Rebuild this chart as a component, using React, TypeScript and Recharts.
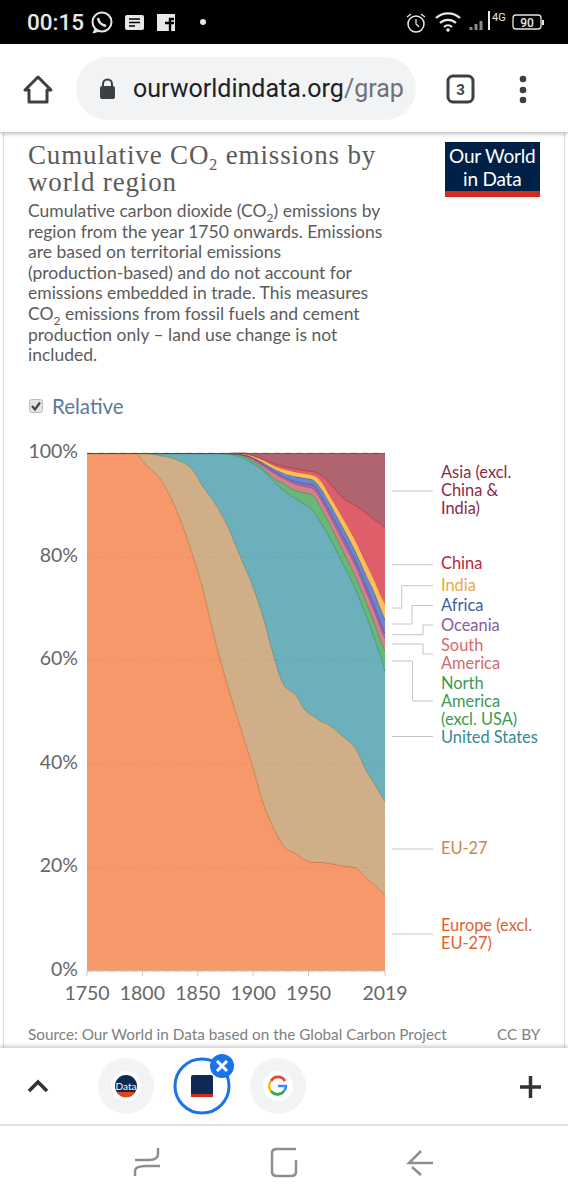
import { AreaChart, Area, XAxis, YAxis, CartesianGrid } from 'recharts'

const years = [1750, 1795, 1801, 1816, 1831, 1846, 1855, 1864, 1876, 1888, 1900, 1909, 1918, 1927, 1939, 1947, 1954, 1960, 1969, 1981, 1992, 2002, 2010, 2015, 2019]

const europe = [100, 100, 98.3, 95.1, 89, 80, 73.5, 65.4, 55.9, 47.5, 39.2, 32.5, 27.9, 24.3, 22.6, 21.5, 21, 21, 20.8, 20.3, 20, 18, 16.5, 15.5, 14.7]
const eu27 = [0, 0, 1.7, 4.5, 9.8, 16.7, 20, 25.5, 30.5, 32.8, 35, 35.9, 33.4, 31.2, 30.6, 28.9, 28.3, 27.4, 26.7, 25, 23.2, 20.8, 19.5, 18.7, 18]
const unitedStates = [0, 0, 0, 0.4, 1.2, 3.3, 6.5, 9.1, 13.5, 19, 23.8, 28.3, 33.5, 37.5, 38, 39.7, 39.7, 38.6, 36.3, 33.4, 30.8, 29.9, 28, 26.6, 25.3]
const northAmerica = [0, 0, 0, 0, 0, 0, 0, 0, 0.1, 0.4, 0.5, 0.4, 0.5, 1.2, 1.6, 2.3, 2.9, 3, 2.6, 2.5, 2.4, 2.6, 2.9, 3.1, 3.9]
const southAmerica = [0, 0, 0, 0, 0, 0, 0, 0, 0, 0.1, 0.4, 0.5, 1, 1, 1.2, 1.2, 1.3, 1.5, 1.6, 1.8, 2, 2, 2.3, 2.4, 2.4]
const oceania = [0, 0, 0, 0, 0, 0, 0, 0, 0, 0, 0.1, 0.3, 0.4, 0.4, 0.5, 0.6, 0.7, 0.8, 0.9, 1, 1, 1.1, 1, 1, 1]
const africa = [0, 0, 0, 0, 0, 0, 0, 0, 0, 0.1, 0.2, 0.3, 0.4, 0.6, 1, 1, 1, 1.3, 1.5, 1.7, 1.8, 2.1, 2.6, 2.7, 2.7]
const india = [0, 0, 0, 0, 0, 0, 0, 0, 0, 0.1, 0.3, 0.5, 0.6, 0.8, 0.9, 0.9, 0.9, 1.4, 1.5, 1.8, 2.1, 2.3, 2.4, 2.6, 2.9]
const china = [0, 0, 0, 0, 0, 0, 0, 0, 0, 0, 0.1, 0.2, 0.4, 0.5, 0.6, 0.6, 0.7, 1, 2.4, 3.9, 6.7, 9.7, 11.9, 13.8, 14.7]
const asia = [0, 0, 0, 0, 0, 0, 0, 0, 0, 0.1, 0.4, 1.1, 1.9, 2.5, 3, 3.3, 3.5, 4, 5.7, 8.6, 10, 11.5, 12.9, 13.6, 14.4]

const xTicks = [1750, 1800, 1850, 1900, 1950, 2019]
const yTicks = [0, 20, 40, 60, 80, 100]

const series = [
  { key: 'europe', values: europe, fill: '#f47e45', stroke: '#c4622f' },
  { key: 'eu27', values: eu27, fill: '#c49a69', stroke: '#99764d' },
  { key: 'unitedStates', values: unitedStates, fill: '#469ca9', stroke: '#2f7f8b' },
  { key: 'northAmerica', values: northAmerica, fill: '#45a656', stroke: '#2f8a40' },
  { key: 'southAmerica', values: southAmerica, fill: '#c7636f', stroke: '#ad4f5b' },
  { key: 'oceania', values: oceania, fill: '#7c4aa1', stroke: '#663a88' },
  { key: 'africa', values: africa, fill: '#4369c0', stroke: '#3454a0' },
  { key: 'india', values: india, fill: '#fbae31', stroke: '#e09520' },
  { key: 'china', values: china, fill: '#d63743', stroke: '#b52a35' },
  { key: 'asia', values: asia, fill: '#9b3d4c', stroke: '#80303e' },
]

const rows = years.map((year, i) => {
  const row: Record<string, number> = { year }
  series.forEach((s) => {
    row[s.key] = s.values[i]
  })
  return row
})

const labels = [
  { top: 463, color: '#8c2b45', lines: ['Asia (excl.', 'China &', 'India)'] },
  { top: 554, color: '#b5283a', lines: ['China'] },
  { top: 576, color: '#e8a83c', lines: ['India'] },
  { top: 596, color: '#3d5c9e', lines: ['Africa'] },
  { top: 616, color: '#8a5a9e', lines: ['Oceania'] },
  { top: 636, color: '#d46a6a', lines: ['South', 'America'] },
  { top: 674, color: '#3a9a50', lines: ['North', 'America', '(excl. USA)'] },
  { top: 728, color: '#2f8a96', lines: ['United States'] },
  { top: 839, color: '#c08a50', lines: ['EU-27'] },
  { top: 916, color: '#e0622a', lines: ['Europe (excl.', 'EU-27)'] },
]

const leaders = [
  'M392 491H433',
  'M392 564.7H433',
  'M392 608H401.7V585.7H433',
  'M392 624H412V605.5H433',
  'M392 634.7H423V625H433',
  'M392 644H423V654H433',
  'M392 661H412.5V701H433',
  'M392 736.5H433',
  'M392 849H433',
  'M392 934H433',
]

const abs = (left: number, top: number, extra = {}) => ({ position: 'absolute' as const, left, top, ...extra })

function PhoneTop() {
  return (
    <>
      <div style={abs(0, 0, { width: 568, height: 44, background: '#000' })} />
      <div style={abs(27, 9, { color: '#e8e8e8', font: '500 22.5px Roboto' })}>00:15</div>
      <svg style={abs(0, 0)} width={568} height={44}>
        <circle cx={102} cy={22} r={9.5} fill="none" stroke="#e8e8e8" strokeWidth={2} />
        <path d="M95 29l-2 4 5-1.500" fill="#e8e8e8" stroke="#e8e8e8" />
        <path d="M98 18c1 5 3 7 8 8" fill="none" stroke="#e8e8e8" strokeWidth={2.5} />
        <rect x={125} y={15} width={19} height={15} rx={2} fill="#e8e8e8" />
        <path d="M129 19h11M129 22.500h11M129 26h6" stroke="#000" strokeWidth={1.5} />
        <rect x={157} y={14} width={18} height={17} fill="#e8e8e8" />
        <path d="M170 31v-12h4M165 23h9" stroke="#000" strokeWidth={2.4} fill="none" />
        <circle cx={203} cy={22} r={3} fill="#e8e8e8" />
        <circle cx={416} cy={24} r={8} fill="none" stroke="#e8e8e8" strokeWidth={1.5} />
        <path d="M416 19v5l3 3M407 17l4-3M425 17l-4-3" fill="none" stroke="#e8e8e8" strokeWidth={1.3} />
        <path d="M436 18a18 18 0 0 1 24 0M440 23a12 12 0 0 1 16 0M444 27a6 6 0 0 1 8 0" fill="none" stroke="#e8e8e8" strokeWidth={2.2} />
        <circle cx={448} cy={30} r={1.8} fill="#e8e8e8" />
        <path d="M471 30v-3M476 30v-6M481 30v-9" stroke="#8a8a8a" strokeWidth={3} />
        <path d="M489 30v-19" stroke="#e8e8e8" strokeWidth={2} />
        <text x={492} y={21} fontFamily="Roboto" fontSize={11} fill="#e8e8e8">4G</text>
        <rect x={513} y={15} width={28} height={14} rx={3} fill="none" stroke="#e8e8e8" strokeWidth={1.3} />
        <rect x={542} y={20} width={2} height={5} fill="#e8e8e8" />
        <text x={527} y={27} textAnchor="middle" fontFamily="Roboto" fontWeight={500} fontSize={12} fill="#e8e8e8">90</text>
      </svg>
      <div style={abs(0, 44, { width: 568, height: 88, background: '#fff', boxShadow: '0 2px 4px rgba(0,0,0,0.25)' })} />
      <div style={abs(76, 57, { width: 340, height: 63, borderRadius: 32, background: '#f1f3f4' })} />
      <svg style={abs(0, 44)} width={568} height={88}>
        <path d="M25 46L38 33L51 46H47V58H29V46Z" fill="none" stroke="#3c4043" strokeWidth={3} strokeLinejoin="round" />
        <rect x={100} y={42} width={15} height={13} rx={2} fill="#3c4043" />
        <path d="M103 43v-3a4.500 4.500 0 0 1 9 0v3" fill="none" stroke="#3c4043" strokeWidth={2} />
        <rect x={448} y={32} width={25} height={26} rx={5} fill="none" stroke="#3c4043" strokeWidth={3} />
        <text x={460.500} y={51} textAnchor="middle" fontFamily="Roboto" fontWeight={700} fontSize={15} fill="#3c4043">3</text>
        <circle cx={523} cy={35} r={3.300} fill="#3c4043" />
        <circle cx={523} cy={46} r={3.300} fill="#3c4043" />
        <circle cx={523} cy={56} r={3.300} fill="#3c4043" />
      </svg>
      <div style={abs(133, 74, { font: '25px Roboto', color: '#202124', whiteSpace: 'nowrap' })}>
        ourworldindata.org<span style={{ color: '#6f7276' }}>/grap</span>
      </div>
    </>
  )
}

function PhoneBottom() {
  return (
    <>
      <div style={abs(0, 1048, { width: 568, height: 152, background: '#fff', boxShadow: '0 -2px 4px rgba(0,0,0,0.2)' })} />
      <div style={abs(0, 1124, { width: 568, height: 2, background: '#e2e2e2' })} />
      <svg style={abs(0, 1048)} width={568} height={152}>
        <path d="M29 43L38 34L47 43" fill="none" stroke="#333" strokeWidth={3.500} />
        <circle cx={126} cy={38} r={28} fill="#f1f3f4" />
        <circle cx={126} cy={38} r={15} fill="#fff" />
        <circle cx={126} cy={38} r={11} fill="#0f2a52" />
        <path d="M116.500 44A11 11 0 0 0 135.500 44Z" fill="#e0461e" />
        <text x={126} y={42} textAnchor="middle" fontFamily="Lato" fontSize={10} fill="#fff">Data</text>
        <circle cx={202} cy={38} r={27} fill="#fff" stroke="#1a73e8" strokeWidth={3} />
        <rect x={191} y={27} width={22} height={22} rx={2} fill="#0f2a52" />
        <rect x={191} y={46} width={22} height={3} fill="#d42b21" />
        <circle cx={222} cy={18} r={12} fill="#1a73e8" />
        <path d="M217 13L227 23M227 13L217 23" stroke="#fff" strokeWidth={3} />
        <circle cx={278} cy={38} r={28} fill="#f1f3f4" />
        <circle cx={278} cy={38} r={15} fill="#fff" />
        <path d="M285 33A8 8 0 0 0 271 33" fill="none" stroke="#ea4335" strokeWidth={2.600} />
        <path d="M271 33A8 8 0 0 0 271 43" fill="none" stroke="#fbbc05" strokeWidth={2.600} />
        <path d="M271 43A8 8 0 0 0 284 43" fill="none" stroke="#34a853" strokeWidth={2.600} />
        <path d="M278 38H286A8 8 0 0 1 284 43" fill="none" stroke="#4285f4" strokeWidth={2.600} />
        <path d="M520 39H541M530.500 28V50" stroke="#333" strokeWidth={3.500} />
        <g fill="none" stroke="#8e8e8e" strokeWidth={2.500}>
          <path d="M135 112H149Q158 112 158 106V100M160 118H146Q135 118 135 123V128" />
          <path d="M296 101H277Q272 101 272 105V124Q272 128 277 128H291Q296 128 296 124V112" />
          <path d="M433 115H409L421 103M412 119L421 127" />
        </g>
      </svg>
    </>
  )
}

export default function App() {
  return (
    <div style={abs(0, 0, { width: 568, height: 1200, background: '#fff', overflow: 'hidden' })}>
      <div style={abs(3, 132, { width: 1, height: 916, background: '#ddd' })} />
      <div style={abs(564, 132, { width: 1, height: 916, background: '#ddd' })} />

      <div style={abs(28, 142, { font: '27px/26.5px "Liberation Serif"', letterSpacing: 0.85, color: '#5b5b5b', whiteSpace: 'nowrap' })}>
        Cumulative CO<sub style={{ fontSize: 16, lineHeight: 0 }}>2</sub> emissions by
        <br />
        world region
      </div>

      <div style={abs(444.5, 142, { width: 95.5, height: 49, background: '#002147', color: '#fff', textAlign: 'center', font: '19px/23px Lato', letterSpacing: -0.2, paddingTop: 2, boxSizing: 'border-box' })}>
        Our World
        <br />
        in Data
      </div>
      <div style={abs(444.5, 191, { width: 95.5, height: 6, background: '#d42b21' })} />

      <div style={abs(28, 201, { font: '17.5px/20.6px Lato', color: '#5b5b5b', whiteSpace: 'nowrap' })}>
        Cumulative carbon dioxide (CO<sub style={{ fontSize: 12, lineHeight: 0 }}>2</sub>) emissions by
        <br />
        region from the year 1750 onwards. Emissions
        <br />
        are based on territorial emissions
        <br />
        (production-based) and do not account for
        <br />
        emissions embedded in trade. This measures
        <br />
        CO<sub style={{ fontSize: 12, lineHeight: 0 }}>2</sub> emissions from fossil fuels and cement
        <br />
        production only – land use change is not
        <br />
        included.
      </div>

      <svg style={abs(29, 399)} width={14} height={14}>
        <rect x={0.5} y={0.5} width={13} height={13} rx={2} fill="#e4e4e4" stroke="#bbb" />
        <path d="M3 7L6 10.500L11 3.500" fill="none" stroke="#444" strokeWidth={2.200} />
      </svg>
      <div style={abs(52, 394, { font: '20.500px Lato', color: '#5b7a96', whiteSpace: 'nowrap' })}>Relative</div>

      <div style={abs(0, 0)}>
        <AreaChart
          width={568}
          height={1040}
          data={rows}
          margin={{ top: 453, right: 183, bottom: 39, left: 0 }}
        >
          <CartesianGrid vertical={false} stroke="#8a8a8a" strokeOpacity={0.45} strokeDasharray="6 5" />
          <XAxis
            dataKey="year"
            type="number"
            domain={[1750, 2019]}
            ticks={xTicks}
            interval={0}
            height={30}
            tickLine={{ stroke: '#c8c8c8' }}
            axisLine={{ stroke: '#c8c8c8' }}
            tickSize={5}
            tickMargin={10}
            tick={{ fontFamily: 'Lato', fontSize: 19.5, fill: '#666' }}
          />
          <YAxis
            type="number"
            domain={[0, 100]}
            ticks={yTicks}
            width={87}
            axisLine={false}
            tickLine={false}
            tickMargin={3}
            tickFormatter={(v) => `${v}%`}
            tick={{ fontFamily: 'Lato', fontSize: 19.5, fill: '#666', dy: -2 }}
          />
          {series.map((s) => (
            <Area
              key={s.key}
              dataKey={s.key}
              stackId="1"
              type="monotone"
              fill={s.fill}
              fillOpacity={0.8}
              stroke={s.stroke}
              strokeWidth={0.8}
              isAnimationActive={false}
              dot={false}
              activeDot={false}
            />
          ))}
        </AreaChart>
      </div>

      <svg style={abs(0, 0, { pointerEvents: 'none' })} width={568} height={1040}>
        {leaders.map((d) => (
          <path key={d} d={d} fill="none" stroke="#c4c4c4" strokeWidth={1} />
        ))}
      </svg>

      {labels.map((l) => (
        <div key={l.lines[0] + l.top} style={abs(441, l.top, { font: '16.4px/18px Lato', color: l.color, whiteSpace: 'nowrap' })}>
          {l.lines.map((t) => (
            <div key={t}>{t}</div>
          ))}
        </div>
      ))}

      <div style={abs(28, 1025, { font: '15.3px/18px Lato', color: '#808080', whiteSpace: 'nowrap' })}>
        Source: Our World in Data based on the Global Carbon Project
      </div>
      <div style={abs(497, 1025, { font: '15.3px/18px Lato', color: '#808080', whiteSpace: 'nowrap' })}>CC BY</div>

      <PhoneTop />
      <PhoneBottom />
    </div>
  )
}
